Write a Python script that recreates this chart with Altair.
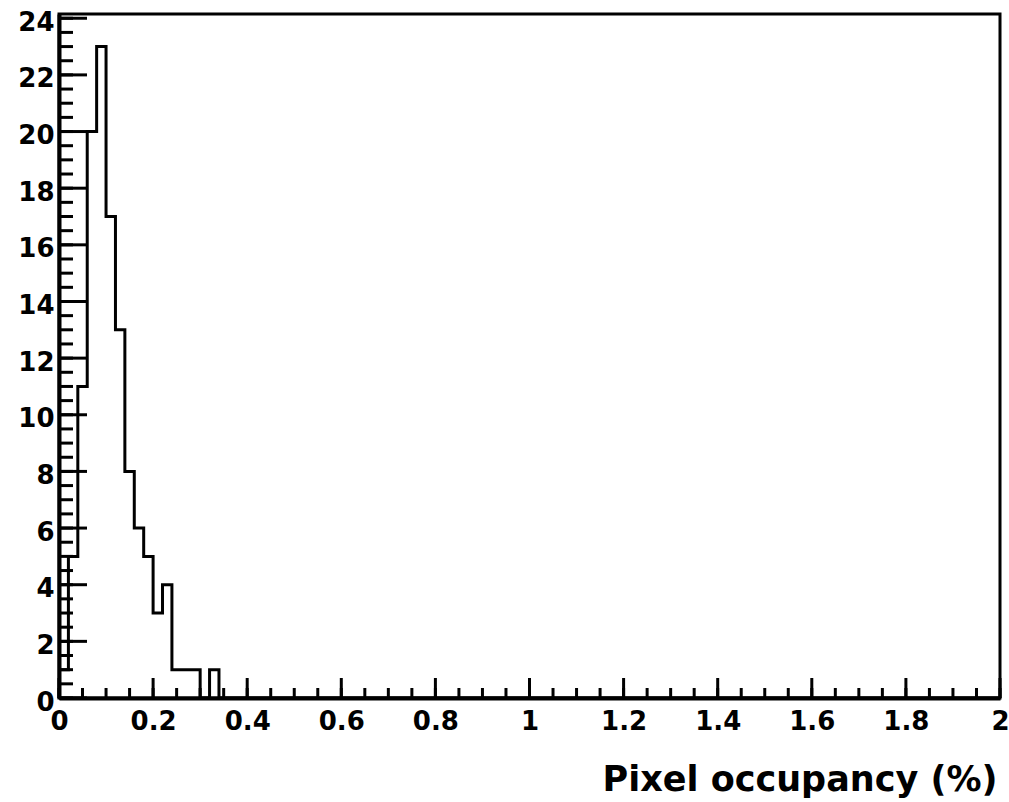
import altair as alt
import pandas as pd
import numpy as np

# ---- data ----
bin_width = 0.02
x_min, x_max = 0.0, 2.0
counts = [
    1, 5, 11, 20, 23, 17, 13, 8, 6, 5, 3, 4, 1, 1, 1, 0, 1, 0, 0, 0,
    0, 0, 0, 0, 0, 0, 0, 0, 0, 0, 0, 0, 0, 0, 0, 0, 0, 0, 0, 0,
    0, 0, 0, 0, 0, 0, 0, 0, 0, 0, 0, 0, 0, 0, 0, 0, 0, 0, 0, 0,
    0, 0, 0, 0, 0, 0, 0, 0, 0, 0, 0, 0, 0, 0, 0, 0, 0, 0, 0, 0,
    0, 0, 0, 0, 0, 0, 0, 0, 0, 0, 0, 0, 0, 0, 0, 0, 0, 0, 0, 0,
]
x_label_values = [0, 0.2, 0.4, 0.6, 0.8, 1.0, 1.2, 1.4, 1.6, 1.8, 2.0]
y_label_values = [0, 2, 4, 6, 8, 10, 12, 14, 16, 18, 20, 22, 24]
y_top = 24.15
x_title = "Pixel occupancy (%)"

# ---- tables ----
edges = [round(x_min + i * bin_width, 4) for i in range(len(counts))]
hist = pd.DataFrame({"x": edges + [x_max], "y": counts + [0]})

x_minor = pd.DataFrame({"x": np.round(np.arange(0, 2.0001, 0.05), 4)})
x_major = pd.DataFrame({"x": x_label_values})
y_minor = pd.DataFrame({"y": np.round(np.arange(0, 24.001, 0.5), 4)})
y_major = pd.DataFrame({"y": y_label_values})

W, H = 941, 684
FONT = "DejaVu Sans"

xscale = alt.Scale(domain=[x_min, x_max], nice=False, zero=False)
yscale = alt.Scale(domain=[0, y_top], nice=False, zero=True)

x_axis = alt.Axis(
    values=x_label_values, format="~g", grid=False, ticks=False, tickSize=0,
    domain=True, domainColor="black", domainWidth=4,
    labelFont=FONT, labelFontSize=26, labelFontWeight="bold", labelColor="black",
    labelPadding=10, labelFlush=False, labelOverlap=False,
    title=x_title, titleFont=FONT, titleFontSize=35, titleFontWeight="bold",
    titleColor="black", titleAlign="right", titleAnchor="end",
    titleX=938, titleY=92, titleBaseline="alphabetic",
)
y_axis = alt.Axis(
    values=y_label_values, format="d", grid=False, ticks=False, tickSize=0,
    domain=True, domainColor="black", domainWidth=4,
    labelFont=FONT, labelFontSize=26, labelFontWeight="bold", labelColor="black",
    labelPadding=5, labelOffset=4, labelFlush=False, labelOverlap=False,
    title=None,
)

X = alt.X("x:Q", scale=xscale, axis=x_axis, title=x_title)
Y = alt.Y("y:Q", scale=yscale, axis=y_axis, title=None)

line = alt.Chart(hist).mark_line(
    interpolate="step-after", color="black", strokeWidth=3, strokeJoin="miter"
).encode(x=X, y=Y)

xt_minor = alt.Chart(x_minor).mark_rule(color="black", strokeWidth=3).encode(
    x=X, y=alt.value(H), y2=alt.value(H - 10),
)
xt_major = alt.Chart(x_major).mark_rule(color="black", strokeWidth=3).encode(
    x=X, y=alt.value(H), y2=alt.value(H - 20),
)
yt_minor = alt.Chart(y_minor).mark_rule(color="black", strokeWidth=3).encode(
    y=Y, x=alt.value(0), x2=alt.value(14),
)
yt_major = alt.Chart(y_major).mark_rule(color="black", strokeWidth=3).encode(
    y=Y, x=alt.value(0), x2=alt.value(28),
)

chart = alt.layer(line, xt_minor, xt_major, yt_minor, yt_major).properties(
    width=W, height=H,
    autosize=alt.AutoSizeParams(type="none"),
    padding={"left": 59, "top": 14, "right": 9, "bottom": 104},
    background="white",
).configure_view(stroke="black", strokeWidth=3)

chart.save("out.html", embed_options={"renderer": "svg", "actions": False})
